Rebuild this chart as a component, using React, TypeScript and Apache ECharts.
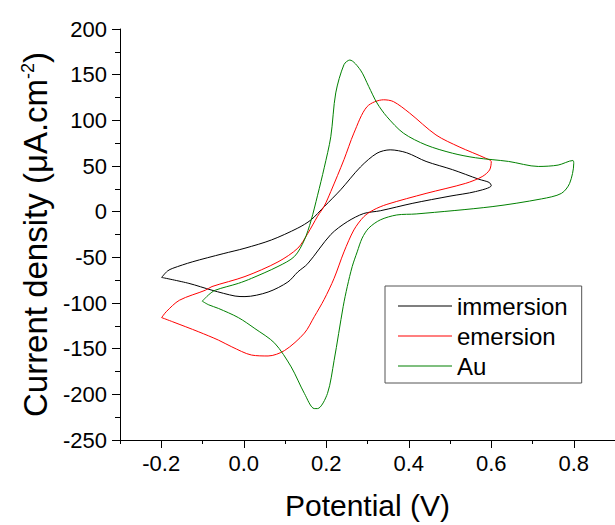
import React, { useEffect, useRef } from "react";
import * as echarts from "echarts";

const immersion: [number, number][] = [
  [-0.199, -72], [-0.185, -65], [-0.172, -62], [-0.125, -55], [-0.05, -46], [0.003, -40],
  [0.067, -31], [0.131, -18], [0.163, -9], [0.195, 5.5], [0.235, 24], [0.283, 49], [0.323, 64],
  [0.355, 67.7], [0.395, 64.5], [0.442, 55], [0.506, 46], [0.57, 35.5], [0.595, 32], [0.6, 28.5],
  [0.562, 22], [0.5, 17], [0.41, 9.2], [0.331, 1], [0.291, -2], [0.251, -11],
  [0.211, -25], [0.155, -57], [0.131, -66], [0.107, -77], [0.059, -88], [0.003, -93],
  [-0.021, -92.4], [-0.077, -86], [-0.133, -78.5], [-0.199, -72],
];

const emersion: [number, number][] = [
  [-0.199, -116], [-0.188, -109.6], [-0.156, -97], [-0.093, -86], [-0.077, -82], [0.003, -71],
  [0.083, -55], [0.131, -40], [0.155, -24], [0.179, -5], [0.195, 6], [0.211, 22], [0.243, 57],
  [0.267, 86], [0.299, 115], [0.339, 122.5], [0.363, 120.5], [0.402, 108], [0.466, 84],
  [0.522, 71], [0.586, 58.6], [0.6, 54.8], [0.596, 45.7], [0.578, 38.4], [0.538, 31], [0.442, 20],
  [0.347, 8], [0.315, 2], [0.291, -5.5], [0.267, -20], [0.243, -44], [0.219, -73], [0.195, -96],
  [0.171, -115], [0.147, -133], [0.099, -152], [0.059, -158], [0.019, -157], [-0.029, -148],
  [-0.061, -140.7], [-0.109, -131.6], [-0.172, -120.6], [-0.199, -116],
];

const au: [number, number][] = [
  [-0.1006, -98], [-0.085, -91], [-0.069, -86], [-0.013, -78.5], [0.019, -73], [0.083, -60],
  [0.123, -49], [0.147, -31], [0.163, -10], [0.179, 18], [0.195, 48], [0.211, 82], [0.223, 130],
  [0.243, 161], [0.257, 166], [0.283, 155], [0.303, 137], [0.323, 119], [0.347, 104], [0.387, 86],
  [0.442, 73], [0.506, 64], [0.562, 59], [0.642, 55], [0.714, 49.5], [0.762, 51], [0.798, 56],
  [0.8, 53], [0.79, 31], [0.77, 20], [0.722, 14], [0.602, 5.5], [0.418, -2.5], [0.371, -3.6],
  [0.331, -9], [0.303, -18], [0.287, -29], [0.275, -44], [0.263, -60], [0.251, -82],
  [0.241, -104], [0.219, -163], [0.203, -199], [0.179, -215.6], [0.171, -215.6], [0.147, -199],
  [0.115, -170], [0.075, -144], [0.027, -128], [-0.013, -116], [-0.061, -106], [-0.085, -102],
  [-0.1006, -98],
];

const seriesNames = ["immersion", "emersion", "Au"];
const seriesColors = ["#000000", "#ff0000", "#008000"];
const xMajorTicks = [-0.2, 0, 0.2, 0.4, 0.6, 0.8];
const xMinorTicks = [-0.3, -0.1, 0.1, 0.3, 0.5, 0.7, 0.9];

const FONT = "'Liberation Sans', Arial, sans-serif";

export default function App() {
  const ref = useRef<HTMLDivElement>(null);
  useEffect(() => {
    document.body.style.margin = "0";
    const chart = echarts.init(ref.current!, null, { renderer: "svg" });
    const datasets = [immersion, emersion, au];
    chart.setOption({
      animation: false,
      backgroundColor: "#ffffff",
      grid: { left: 120, top: 29, right: -6, bottom: 85 },
      legend: {
        orient: "vertical",
        left: 385,
        top: 286,
        padding: [8, 14, 5, 13],
        borderColor: "#555",
        borderWidth: 1,
        icon: "rect",
        itemWidth: 54,
        itemHeight: 1.2,
        itemGap: 6,
        itemTextGap: 6,
        textStyle: { fontSize: 24, color: "#000", fontFamily: FONT, lineHeight: 24 },
        data: seriesNames,
      },
      xAxis: [
        {
          type: "value",
          min: -0.3,
          max: 0.9,
          position: "bottom",
          name: "Potential (V)",
          nameLocation: "middle",
          nameGap: 50,
          nameTextStyle: { fontSize: 30, color: "#000", fontFamily: FONT },
          axisLine: { show: true, onZero: false, lineStyle: { color: "#000", width: 1 } },
          axisTick: { show: true, customValues: xMajorTicks, length: 8, lineStyle: { color: "#000" } },
          axisLabel: {
            customValues: xMajorTicks,
            fontSize: 22,
            color: "#000",
            fontFamily: FONT,
            margin: 12,
            formatter: (v: number) => v.toFixed(1),
          },
          splitLine: { show: false },
        },
        {
          type: "value",
          min: -0.3,
          max: 0.9,
          position: "bottom",
          axisLine: { show: false, onZero: false },
          axisTick: { show: true, customValues: xMinorTicks, length: 4, lineStyle: { color: "#000" } },
          axisLabel: { show: false },
          splitLine: { show: false },
        },
      ],
      yAxis: {
        type: "value",
        min: -250,
        max: 200,
        interval: 50,
        name: "Current density (μA.cm{sup|-2})",
        nameLocation: "middle",
        nameRotate: 90,
        nameGap: 66,
        nameTextStyle: {
          fontSize: 33,
          color: "#000",
          fontFamily: FONT,
          rich: {
            sup: { fontSize: 18, color: "#000", fontFamily: FONT, verticalAlign: "top", lineHeight: 18 },
          },
        },
        axisLine: { show: true, onZero: false, lineStyle: { color: "#000", width: 1 } },
        axisTick: { show: true, length: 8, lineStyle: { color: "#000" } },
        minorTick: { show: true, splitNumber: 2, length: 5, lineStyle: { color: "#000" } },
        axisLabel: { fontSize: 22, color: "#000", fontFamily: FONT, margin: 13 },
        splitLine: { show: false },
      },
      series: datasets.map((d, i) => ({
        name: seriesNames[i],
        type: "line",
        xAxisIndex: 0,
        data: d,
        symbol: "none",
        showSymbol: false,
        smooth: 0.3,
        lineStyle: { color: seriesColors[i], width: 1 },
        itemStyle: { color: seriesColors[i] },
      })),
    });
    return () => chart.dispose();
  }, []);
  return (
    <div
      ref={ref}
      style={{ width: 615, height: 525, position: "absolute", left: 0, top: 0 }}
    />
  );
}
